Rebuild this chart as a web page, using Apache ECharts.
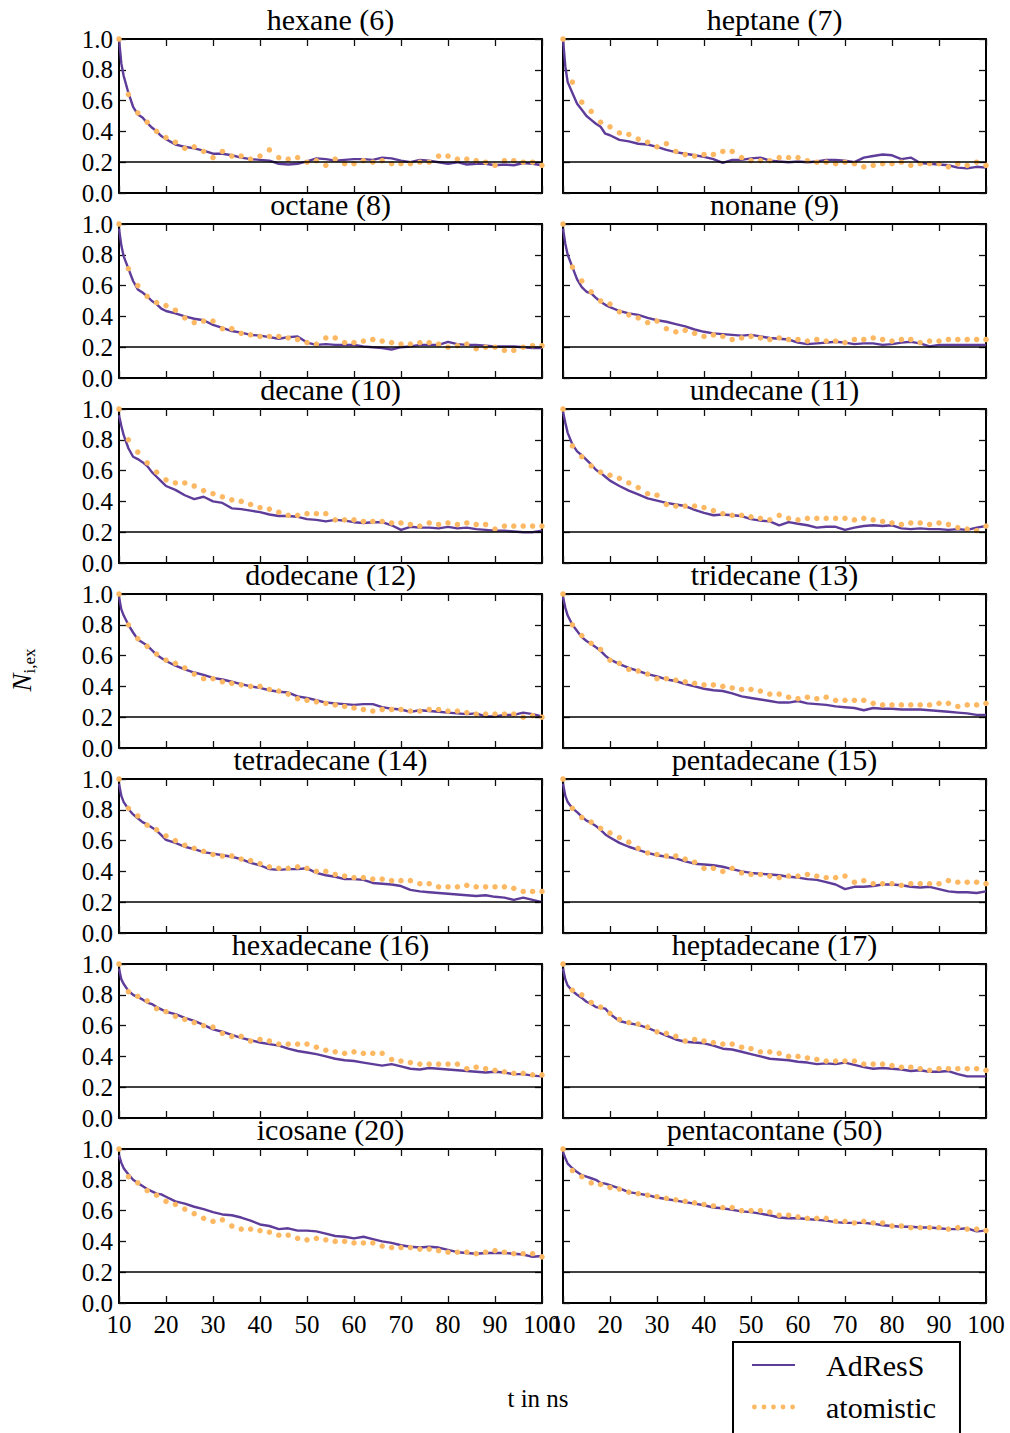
<!DOCTYPE html>
<html><head><meta charset="utf-8">
<script src="https://cdn.jsdelivr.net/npm/echarts@6/dist/echarts.min.js"></script>
<style>html,body{margin:0;padding:0;background:#fff}#c{width:1010px;height:1433px}</style>
</head><body><div id="c"></div>
<script>
// time axis of the atomistic reference points (ns)
const TA = [10,12,14,16,18,20,22,24,26,28,30,32,34,36,38,40,42,44,46,48,50,52,54,56,58,60,62,64,66,68,70,72,74,76,78,80,82,84,86,88,90,92,94,96,98,100];
// time axis of the AdResS samples (ns)
const TP = [10,10.5,11,12,13,14,15,16,17,18,19,20,22,24,26,28,30,32,34,36,38,40,42,44,46,48,50,52,54,56,58,60,62,64,66,68,70,72,74,76,78,80,82,84,86,88,90,92,94,96,98,100];
const xTicks = [10,20,30,40,50,60,70,80,90,100];
const yTicks = [0.0,0.2,0.4,0.6,0.8,1.0];
const titles = ['hexane (6)','heptane (7)','octane (8)','nonane (9)','decane (10)','undecane (11)','dodecane (12)','tridecane (13)','tetradecane (14)','pentadecane (15)','hexadecane (16)','heptadecane (17)','icosane (20)','pentacontane (50)'];
const refLevel = 0.2;

const adress_hexane = [1.0,0.84,0.76,0.65,0.56,0.51,0.49,0.455,0.425,0.40,0.37,0.35, 0.315,0.30,0.29,0.275,0.255,0.255,0.245,0.23,0.22,0.215, 0.21,0.19,0.185,0.19,0.205,0.225,0.22,0.21,0.215,0.22, 0.22,0.215,0.23,0.225,0.21,0.2,0.215,0.21,0.2,0.19, 0.2,0.185,0.19,0.19,0.18,0.185,0.18,0.195,0.19,0.18];
const atom_hexane = [1.0,0.64,0.52,0.46,0.40,0.36,0.33,0.29,0.30,0.27,0.23,0.27,0.24,0.24,0.22,0.24,0.28,0.23,0.22,0.23,0.20,0.21,0.18,0.22,0.19,0.19,0.21,0.20,0.21,0.19,0.19,0.19,0.20,0.20,0.24,0.24,0.22,0.22,0.21,0.20,0.18,0.21,0.21,0.20,0.20,0.18];

const adress_heptane = [1.0,0.82,0.72,0.65,0.58,0.54,0.50,0.475,0.45,0.43,0.385,0.375, 0.345,0.335,0.32,0.315,0.30,0.28,0.265,0.255,0.245,0.235, 0.22,0.195,0.215,0.215,0.225,0.23,0.21,0.205,0.20,0.205, 0.20,0.205,0.215,0.215,0.21,0.20,0.23,0.24,0.25,0.245, 0.22,0.23,0.195,0.19,0.185,0.18,0.165,0.16,0.17,0.165];
const atom_heptane = [1.0,0.72,0.59,0.53,0.46,0.43,0.39,0.38,0.35,0.33,0.30,0.32,0.27,0.25,0.24,0.25,0.25,0.27,0.27,0.23,0.21,0.21,0.21,0.23,0.23,0.23,0.21,0.20,0.20,0.19,0.20,0.19,0.17,0.18,0.19,0.19,0.20,0.18,0.19,0.19,0.19,0.17,0.19,0.18,0.20,0.18];

const adress_octane = [0.97,0.86,0.79,0.71,0.63,0.575,0.555,0.53,0.50,0.48,0.45,0.435, 0.42,0.40,0.385,0.375,0.345,0.325,0.305,0.295,0.28,0.275, 0.265,0.255,0.265,0.27,0.23,0.215,0.22,0.215,0.215,0.215, 0.205,0.2,0.195,0.185,0.2,0.205,0.215,0.215,0.215,0.235, 0.22,0.215,0.215,0.21,0.205,0.205,0.205,0.2,0.195,0.195];
const atom_octane = [1.0,0.71,0.60,0.53,0.49,0.47,0.44,0.39,0.36,0.37,0.37,0.32,0.32,0.29,0.28,0.27,0.27,0.27,0.26,0.25,0.23,0.22,0.26,0.26,0.23,0.23,0.24,0.25,0.24,0.23,0.22,0.22,0.23,0.23,0.22,0.20,0.21,0.22,0.19,0.20,0.20,0.18,0.18,0.20,0.21,0.21];

const adress_nonane = [0.97,0.87,0.80,0.72,0.64,0.59,0.56,0.55,0.52,0.495,0.475,0.46, 0.435,0.42,0.41,0.39,0.375,0.365,0.35,0.335,0.315,0.30, 0.29,0.285,0.28,0.275,0.28,0.27,0.26,0.255,0.25,0.23, 0.22,0.225,0.23,0.235,0.23,0.22,0.225,0.225,0.215,0.22, 0.23,0.235,0.225,0.205,0.215,0.215,0.215,0.215,0.215,0.215];
const atom_nonane = [1.0,0.72,0.63,0.56,0.50,0.48,0.43,0.41,0.39,0.36,0.37,0.32,0.30,0.31,0.29,0.27,0.28,0.27,0.25,0.26,0.27,0.26,0.25,0.26,0.25,0.25,0.24,0.25,0.24,0.24,0.23,0.25,0.25,0.26,0.25,0.24,0.25,0.25,0.23,0.24,0.24,0.25,0.25,0.25,0.25,0.25];

const adress_decane = [0.96,0.89,0.83,0.745,0.69,0.675,0.655,0.63,0.59,0.56,0.53,0.50, 0.475,0.44,0.415,0.43,0.40,0.39,0.355,0.35,0.34,0.33, 0.315,0.305,0.305,0.30,0.285,0.28,0.27,0.28,0.275,0.265, 0.26,0.265,0.265,0.245,0.215,0.235,0.23,0.23,0.225,0.235, 0.225,0.23,0.22,0.215,0.21,0.21,0.205,0.2,0.2,0.21];
const atom_decane = [1.0,0.80,0.72,0.65,0.59,0.54,0.52,0.52,0.50,0.47,0.45,0.43,0.41,0.40,0.38,0.36,0.35,0.33,0.31,0.31,0.32,0.32,0.32,0.28,0.28,0.28,0.27,0.27,0.27,0.26,0.26,0.25,0.24,0.26,0.25,0.26,0.25,0.26,0.25,0.25,0.22,0.24,0.24,0.24,0.24,0.24];

const adress_undecane = [0.98,0.91,0.845,0.77,0.725,0.70,0.67,0.64,0.605,0.585,0.56,0.535, 0.50,0.47,0.445,0.42,0.405,0.39,0.38,0.37,0.345,0.325, 0.31,0.315,0.31,0.305,0.285,0.275,0.27,0.245,0.265,0.255, 0.245,0.23,0.235,0.235,0.215,0.23,0.24,0.245,0.24,0.245, 0.225,0.22,0.225,0.22,0.22,0.215,0.22,0.215,0.23,0.24];
const atom_undecane = [1.0,0.76,0.69,0.63,0.59,0.57,0.55,0.52,0.49,0.45,0.44,0.38,0.37,0.37,0.37,0.36,0.34,0.32,0.31,0.31,0.30,0.29,0.28,0.31,0.29,0.28,0.29,0.29,0.29,0.29,0.29,0.28,0.29,0.28,0.27,0.26,0.25,0.26,0.26,0.25,0.26,0.25,0.23,0.22,0.21,0.24];

const adress_dodecane = [0.98,0.90,0.86,0.80,0.75,0.705,0.685,0.665,0.635,0.605,0.585,0.565, 0.535,0.51,0.49,0.475,0.455,0.445,0.43,0.415,0.40,0.39, 0.375,0.365,0.36,0.335,0.325,0.31,0.295,0.29,0.285,0.28, 0.285,0.285,0.265,0.255,0.25,0.235,0.245,0.24,0.235,0.23, 0.225,0.22,0.225,0.205,0.205,0.215,0.215,0.23,0.22,0.205];
const atom_dodecane = [1.0,0.80,0.71,0.66,0.61,0.57,0.55,0.52,0.48,0.45,0.45,0.43,0.42,0.41,0.40,0.40,0.38,0.37,0.35,0.32,0.31,0.30,0.29,0.28,0.27,0.26,0.25,0.24,0.25,0.25,0.25,0.24,0.24,0.25,0.25,0.24,0.24,0.23,0.22,0.22,0.22,0.22,0.22,0.20,0.21,0.20];

const adress_tridecane = [0.98,0.91,0.86,0.80,0.76,0.72,0.695,0.675,0.655,0.63,0.60,0.575, 0.545,0.52,0.50,0.48,0.465,0.445,0.435,0.415,0.40,0.385, 0.375,0.37,0.355,0.335,0.325,0.315,0.305,0.295,0.295,0.305, 0.29,0.285,0.28,0.27,0.265,0.26,0.245,0.26,0.255,0.255, 0.25,0.25,0.25,0.245,0.24,0.235,0.23,0.225,0.215,0.215];
const atom_tridecane = [1.0,0.80,0.73,0.68,0.64,0.57,0.55,0.51,0.50,0.48,0.45,0.45,0.44,0.43,0.42,0.41,0.41,0.40,0.39,0.38,0.38,0.37,0.35,0.35,0.33,0.32,0.33,0.32,0.33,0.31,0.31,0.31,0.31,0.29,0.28,0.28,0.28,0.28,0.28,0.28,0.29,0.29,0.27,0.28,0.28,0.29];

const adress_tetradecane = [0.97,0.89,0.85,0.805,0.77,0.745,0.72,0.705,0.685,0.665,0.635,0.605, 0.585,0.56,0.545,0.525,0.515,0.505,0.495,0.48,0.455,0.44, 0.415,0.41,0.415,0.415,0.42,0.39,0.375,0.365,0.35,0.35, 0.345,0.325,0.32,0.315,0.305,0.28,0.27,0.265,0.26,0.255, 0.25,0.245,0.24,0.245,0.235,0.23,0.215,0.23,0.215,0.20];
const atom_tetradecane = [1.0,0.81,0.76,0.70,0.67,0.63,0.60,0.57,0.55,0.53,0.51,0.50,0.50,0.48,0.47,0.45,0.43,0.42,0.42,0.43,0.42,0.40,0.40,0.38,0.37,0.36,0.36,0.35,0.35,0.34,0.34,0.34,0.32,0.32,0.30,0.30,0.30,0.31,0.30,0.30,0.30,0.30,0.29,0.27,0.27,0.27];

const adress_pentadecane = [0.97,0.89,0.85,0.81,0.785,0.755,0.73,0.715,0.695,0.67,0.64,0.62, 0.585,0.56,0.54,0.52,0.505,0.495,0.485,0.465,0.45,0.445, 0.44,0.43,0.415,0.40,0.39,0.385,0.38,0.375,0.365,0.36, 0.35,0.345,0.33,0.315,0.285,0.30,0.30,0.305,0.315,0.315, 0.31,0.30,0.295,0.30,0.285,0.27,0.265,0.265,0.26,0.27];
const atom_pentadecane = [1.0,0.81,0.75,0.72,0.68,0.65,0.62,0.59,0.55,0.52,0.51,0.50,0.50,0.48,0.46,0.42,0.42,0.40,0.42,0.39,0.38,0.38,0.37,0.36,0.37,0.37,0.38,0.37,0.36,0.36,0.37,0.33,0.34,0.32,0.32,0.32,0.31,0.32,0.32,0.32,0.32,0.34,0.33,0.33,0.33,0.32];

const adress_hexadecane = [0.97,0.90,0.87,0.825,0.80,0.785,0.77,0.75,0.74,0.72,0.705,0.69, 0.675,0.65,0.63,0.605,0.575,0.56,0.54,0.52,0.505,0.49, 0.48,0.47,0.45,0.435,0.425,0.415,0.40,0.385,0.375,0.37, 0.36,0.35,0.34,0.35,0.335,0.32,0.315,0.325,0.32,0.315, 0.31,0.305,0.30,0.295,0.30,0.295,0.285,0.285,0.275,0.27];
const atom_hexadecane = [1.0,0.82,0.79,0.76,0.71,0.69,0.66,0.64,0.62,0.60,0.59,0.55,0.53,0.53,0.50,0.51,0.50,0.48,0.48,0.48,0.48,0.46,0.44,0.43,0.42,0.43,0.42,0.42,0.42,0.38,0.37,0.36,0.35,0.35,0.35,0.35,0.35,0.32,0.33,0.32,0.31,0.30,0.29,0.29,0.28,0.28];

const adress_heptadecane = [0.97,0.90,0.86,0.825,0.80,0.78,0.755,0.74,0.72,0.715,0.71,0.675, 0.63,0.615,0.605,0.585,0.56,0.535,0.51,0.495,0.49,0.485, 0.47,0.45,0.445,0.43,0.415,0.40,0.385,0.38,0.375,0.365, 0.36,0.35,0.355,0.35,0.36,0.345,0.33,0.32,0.325,0.32, 0.315,0.305,0.31,0.30,0.30,0.305,0.285,0.27,0.27,0.27];
const atom_heptadecane = [1.0,0.83,0.80,0.75,0.72,0.68,0.64,0.62,0.61,0.59,0.56,0.55,0.53,0.50,0.51,0.50,0.49,0.48,0.48,0.46,0.45,0.43,0.43,0.42,0.40,0.40,0.39,0.38,0.37,0.37,0.37,0.37,0.35,0.35,0.35,0.34,0.33,0.33,0.32,0.31,0.32,0.32,0.32,0.32,0.32,0.31];

const adress_icosane = [0.96,0.91,0.875,0.835,0.80,0.78,0.76,0.74,0.725,0.71,0.705,0.69, 0.66,0.645,0.625,0.61,0.59,0.575,0.57,0.555,0.535,0.51, 0.50,0.48,0.485,0.47,0.47,0.465,0.45,0.435,0.43,0.42, 0.43,0.415,0.40,0.39,0.375,0.365,0.36,0.365,0.36,0.345, 0.33,0.325,0.32,0.325,0.325,0.325,0.32,0.315,0.30,0.305];
const atom_icosane = [1.0,0.82,0.78,0.73,0.70,0.66,0.64,0.61,0.58,0.55,0.53,0.54,0.50,0.48,0.48,0.47,0.46,0.44,0.44,0.42,0.41,0.42,0.41,0.40,0.40,0.39,0.39,0.39,0.37,0.36,0.36,0.36,0.35,0.35,0.34,0.33,0.33,0.33,0.32,0.33,0.34,0.33,0.32,0.32,0.32,0.30];

const adress_pentacontane = [0.98,0.94,0.905,0.875,0.85,0.83,0.82,0.81,0.80,0.78,0.775,0.765, 0.745,0.72,0.71,0.70,0.685,0.675,0.665,0.655,0.645,0.635, 0.62,0.615,0.605,0.595,0.59,0.58,0.57,0.555,0.55,0.55, 0.545,0.54,0.535,0.525,0.52,0.52,0.52,0.515,0.505,0.50, 0.495,0.495,0.49,0.49,0.485,0.48,0.48,0.485,0.465,0.47];
const atom_pentacontane = [1.0,0.86,0.82,0.78,0.77,0.75,0.74,0.72,0.71,0.70,0.69,0.68,0.67,0.66,0.65,0.64,0.63,0.62,0.62,0.60,0.60,0.60,0.59,0.57,0.57,0.56,0.55,0.55,0.55,0.53,0.53,0.52,0.53,0.52,0.52,0.50,0.50,0.49,0.49,0.49,0.49,0.48,0.49,0.48,0.48,0.47];

const adressSets = [adress_hexane,adress_heptane,adress_octane,adress_nonane,adress_decane,adress_undecane,adress_dodecane,adress_tridecane,adress_tetradecane,adress_pentadecane,adress_hexadecane,adress_heptadecane,adress_icosane,adress_pentacontane];
const atomSets = [atom_hexane,atom_heptane,atom_octane,atom_nonane,atom_decane,atom_undecane,atom_dodecane,atom_tridecane,atom_tetradecane,atom_pentadecane,atom_hexadecane,atom_heptadecane,atom_icosane,atom_pentacontane];

const FONT = '"Liberation Serif", "DejaVu Serif", serif';
const PURPLE = '#5e3c99', ORANGE = '#fdb863';
const PW = 423, PH = 154, LEFTS = [119, 563], TOP0 = 39, STEP = 185;

const grids = [], xAxes = [], yAxes = [], series = [], titleList = [];
titles.forEach((name, i) => {
  const col = i % 2, row = Math.floor(i / 2);
  const left = LEFTS[col], top = TOP0 + STEP * row;
  grids.push({left, top, width: PW, height: PH, show: false, containLabel: false, outerBoundsMode: 'none'});
  const lineAx = {show: true, onZero: false, lineStyle: {color: '#000', width: 2}};
  const tick = {show: true, inside: true, length: 7, lineStyle: {color: '#111', width: 1.3}};
  const lblX = {show: row === 6, margin: 9, fontFamily: FONT, fontSize: 25, color: '#000', showMinLabel: true, showMaxLabel: true, hideOverlap: false};
  xAxes.push({gridIndex: i, type: 'value', position: 'bottom', min: xTicks[0], max: xTicks[xTicks.length-1], interval: 10,
    axisLine: lineAx, axisTick: tick, axisLabel: lblX, splitLine: {show: false}});
  xAxes.push({gridIndex: i, type: 'value', position: 'top', min: xTicks[0], max: xTicks[xTicks.length-1], interval: 10,
    axisLine: lineAx, axisTick: tick, axisLabel: {show: false}, splitLine: {show: false}});
  yAxes.push({gridIndex: i, type: 'value', position: 'left', min: yTicks[0], max: yTicks[yTicks.length-1], interval: 0.2,
    axisLine: lineAx, axisTick: tick,
    axisLabel: {show: col === 0, margin: 6, fontFamily: FONT, fontSize: 25, color: '#000', formatter: v => v.toFixed(1), showMinLabel: true, showMaxLabel: true},
    splitLine: {show: false}});
  yAxes.push({gridIndex: i, type: 'value', position: 'right', min: yTicks[0], max: yTicks[yTicks.length-1], interval: 0.2,
    axisLine: lineAx, axisTick: tick, axisLabel: {show: false}, splitLine: {show: false}});
  const P = adressSets[i], A = atomSets[i];
  series.push({type: 'line', name: 'AdResS', xAxisIndex: 2*i, yAxisIndex: 2*i,
    data: TP.map((t, k) => [t, P[k]]), symbol: 'none', showSymbol: false,
    lineStyle: {color: PURPLE, width: 2.4}, itemStyle: {color: PURPLE}, z: 3,
    markLine: {silent: true, symbol: 'none', label: {show: false}, animation: false,
      lineStyle: {color: '#000', width: 1.6, type: 'solid'}, emphasis: {disabled: true},
      data: [{yAxis: refLevel}]}});
  series.push({type: 'scatter', name: 'atomistic', xAxisIndex: 2*i, yAxisIndex: 2*i,
    data: TA.map((t, k) => [t, A[k]]), symbol: 'circle', symbolSize: 5.5,
    itemStyle: {color: ORANGE, opacity: 1}, z: 4});
  titleList.push({text: name, left: left + PW / 2, top: top - 35, textAlign: 'center', padding: 0,
    textStyle: {fontFamily: FONT, fontSize: 30, fontWeight: 'normal', color: '#000'}});
});

const lineIcon = 'path://M0,0L43,0L43,2L0,2Z';
const dotsIcon = 'path://M0,2.4a2.4,2.4 0 1,0 4.8,0a2.4,2.4 0 1,0 -4.8,0Z' +
  'M9.6,2.4a2.4,2.4 0 1,0 4.8,0a2.4,2.4 0 1,0 -4.8,0Z' +
  'M19.1,2.4a2.4,2.4 0 1,0 4.8,0a2.4,2.4 0 1,0 -4.8,0Z' +
  'M28.6,2.4a2.4,2.4 0 1,0 4.8,0a2.4,2.4 0 1,0 -4.8,0Z' +
  'M38.2,2.4a2.4,2.4 0 1,0 4.8,0a2.4,2.4 0 1,0 -4.8,0Z';

const chart = echarts.init(document.getElementById('c'), null, {renderer: 'svg', width: 1010, height: 1433});
chart.setOption({
  animation: false,
  backgroundColor: '#fff',
  title: titleList,
  grid: grids, xAxis: xAxes, yAxis: yAxes, series,
  legend: {
    orient: 'vertical', left: 733, top: 1342, height: 200, itemWidth: 43, itemHeight: 14, itemGap: 12,
    padding: [8, 24, 24, 19], borderColor: '#000', borderWidth: 2, borderRadius: 0, backgroundColor: '#fff',
    symbolKeepAspect: true, selectedMode: false,
    textStyle: {fontFamily: FONT, fontSize: 30, color: '#000', padding: [0, 0, 0, 26]},
    data: [{name: 'AdResS', icon: lineIcon}, {name: 'atomistic', icon: dotsIcon}]
  },
  graphic: [
    {type: 'text', x: 538, y: 1398, style: {text: 't in ns', fontFamily: FONT, fontSize: 25, fill: '#000', align: 'center', verticalAlign: 'middle'}},
    {type: 'text', x: 22, y: 670, rotation: Math.PI / 2,
      style: {text: '{n|N}{s|i,ex}', fill: '#000', align: 'center', verticalAlign: 'middle',
        rich: {n: {fontFamily: FONT, fontStyle: 'italic', fontSize: 27, lineHeight: 32, verticalAlign: 'middle'},
               s: {fontFamily: FONT, fontSize: 17, lineHeight: 17, verticalAlign: 'bottom'}}}}
  ]
});
</script></body></html>
